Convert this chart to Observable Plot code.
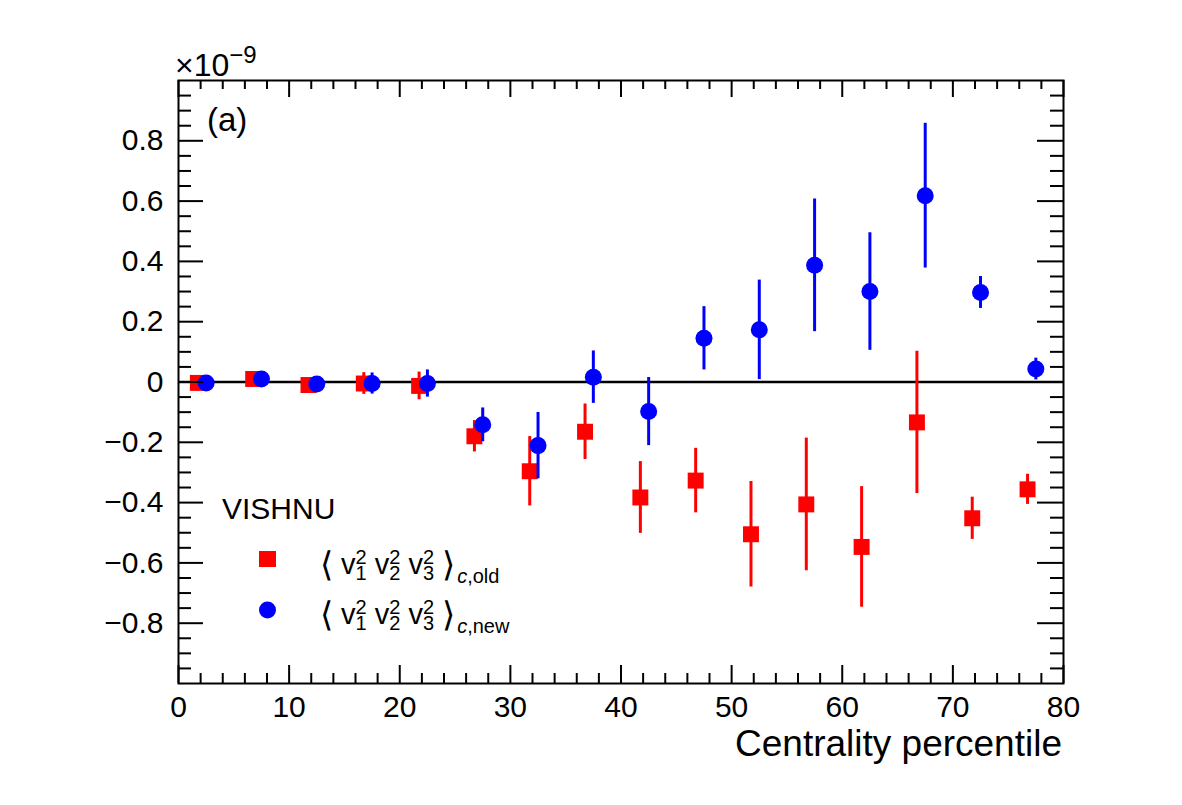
<!DOCTYPE html>
<html>
<head>
<meta charset="utf-8">
<script src="https://cdn.jsdelivr.net/npm/d3@7"></script>
<script src="https://cdn.jsdelivr.net/npm/@observablehq/plot@0.6"></script>
<style>
  html, body { margin: 0; padding: 0; background: #ffffff; }
  #chart { width: 1182px; height: 805px; }
</style>
</head>
<body>
<div id="chart"></div>
<script>
// Centrality bins (percent) for the two estimators, offset slightly for readability
const centralityOld = [1.75, 6.75, 11.75, 16.75, 21.75, 26.75, 31.75, 36.75, 41.75, 46.75, 51.75, 56.75, 61.75, 66.75, 71.75, 76.75];
const centralityNew = [2.5, 7.5, 12.5, 17.5, 22.5, 27.5, 32.5, 37.5, 42.5, 47.5, 52.5, 57.5, 62.5, 67.5, 72.5, 77.5];

// <v1^2 v2^2 v3^2>_c in units of 1e-9
const valuesOld = [-0.003, 0.010, -0.010, -0.005, -0.013, -0.180, -0.296, -0.165, -0.383, -0.327, -0.505, -0.406, -0.547, -0.134, -0.452, -0.356];
const errorsOld = [0.010, 0.010, 0.010, 0.036, 0.046, 0.052, 0.115, 0.092, 0.119, 0.107, 0.175, 0.220, 0.200, 0.236, 0.070, 0.050];
const valuesNew = [-0.003, 0.010, -0.007, -0.005, -0.005, -0.142, -0.211, 0.016, -0.098, 0.145, 0.173, 0.387, 0.300, 0.618, 0.297, 0.043];
const errorsNew = [0.008, 0.008, 0.010, 0.035, 0.045, 0.056, 0.110, 0.087, 0.113, 0.105, 0.165, 0.220, 0.195, 0.240, 0.053, 0.036];

// Axis ticks
const xTickValues = [0, 10, 20, 30, 40, 50, 60, 70, 80];
const yTickValues = [-0.8, -0.6, -0.4, -0.2, 0, 0.2, 0.4, 0.6, 0.8];

const W = 1182, H = 805;
const margin = {top: 80, right: 119, bottom: 122, left: 178};
const plotW = W - margin.left - margin.right;
const plotH = H - margin.top - margin.bottom;
const FONT = "'Liberation Sans', Arial, Helvetica, sans-serif";
const RED = "#ff0000", BLUE = "#0000ff";

const rowsOld = centralityOld.map((x, i) => ({x, v: valuesOld[i], lo: valuesOld[i] - errorsOld[i], hi: valuesOld[i] + errorsOld[i]}));
const rowsNew = centralityNew.map((x, i) => ({x, v: valuesNew[i], lo: valuesNew[i] - errorsNew[i], hi: valuesNew[i] + errorsNew[i]}));

const xMinor = d3.range(0, 80.001, 2).filter(d => d % 10 !== 0);
const yMinor = d3.range(-1, 1.0001, 0.05).map(d => +d.toFixed(2)).filter(d => !yTickValues.includes(d) && Math.abs(d) < 1);
const fmtY = d => d === 0 ? "0" : d3.format(".1f")(d);

const chart = Plot.plot({
  width: W,
  height: H,
  marginTop: margin.top,
  marginRight: margin.right,
  marginBottom: margin.bottom,
  marginLeft: margin.left,
  style: {fontFamily: FONT, background: "#ffffff", color: "#000000"},
  x: {domain: [0, 80]},
  y: {domain: [-1, 1]},
  marks: [
    Plot.ruleY([0], {stroke: "#000", strokeWidth: 2.5}),
    // old estimator
    Plot.ruleX(rowsOld, {x: "x", y1: "lo", y2: "hi", stroke: RED, strokeWidth: 3}),
    Plot.dot(rowsOld, {x: "x", y: "v", symbol: "square", r: 9, fill: RED, stroke: "none"}),
    // new estimator
    Plot.ruleX(rowsNew, {x: "x", y1: "lo", y2: "hi", stroke: BLUE, strokeWidth: 3}),
    Plot.dot(rowsNew, {x: "x", y: "v", r: 8.5, fill: BLUE, stroke: "none"}),
    // inward ticks on all four sides
    Plot.tickX(xTickValues, {x: d => d, insetTop: plotH - 18, stroke: "#000", strokeWidth: 2}),
    Plot.tickX(xMinor, {x: d => d, insetTop: plotH - 10, stroke: "#000", strokeWidth: 2}),
    Plot.tickX(xTickValues, {x: d => d, insetBottom: plotH - 17, stroke: "#000", strokeWidth: 2}),
    Plot.tickX(xMinor, {x: d => d, insetBottom: plotH - 9, stroke: "#000", strokeWidth: 2}),
    Plot.tickY(yTickValues, {y: d => d, insetRight: plotW - 25, stroke: "#000", strokeWidth: 2}),
    Plot.tickY(yMinor, {y: d => d, insetRight: plotW - 13, stroke: "#000", strokeWidth: 2}),
    Plot.tickY(yTickValues, {y: d => d, insetLeft: plotW - 26, stroke: "#000", strokeWidth: 2}),
    Plot.tickY(yMinor, {y: d => d, insetLeft: plotW - 13, stroke: "#000", strokeWidth: 2}),
    Plot.frame({stroke: "#000", strokeWidth: 2}),
    Plot.axisX({ticks: xTickValues, tickSize: 0, tickPadding: 12, fontSize: 30, label: null, tickFormat: d => String(d)}),
    Plot.axisY({ticks: yTickValues, tickSize: 0, tickPadding: 15, fontSize: 30, label: null, tickFormat: fmtY})
  ]
});

document.getElementById("chart").appendChild(chart);

// Annotations: exponent, panel tag, axis title and legend
const svg = d3.select(chart);
const g = svg.append("g").attr("font-family", FONT).attr("fill", "#000").attr("text-anchor", "start");

const expo = g.append("text").attr("x", 175).attr("y", 76).attr("font-size", 32);
expo.append("tspan").text("×10");
expo.append("tspan").attr("font-size", 24).attr("dy", -13).text("−9");

g.append("text").attr("x", 207).attr("y", 131).attr("font-size", 33).text("(a)");

g.append("text").attr("x", 1062).attr("y", 756).attr("font-size", 37)
  .attr("text-anchor", "end").text("Centrality percentile");

g.append("text").attr("x", 222).attr("y", 519).attr("font-size", 30).text("VISHNU");

g.append("rect").attr("x", 259).attr("y", 551).attr("width", 17).attr("height", 16).attr("fill", RED);
g.append("circle").attr("cx", 267.5).attr("cy", 610).attr("r", 8.5).attr("fill", BLUE);

function cumulantLabel(x, y, tag) {
  const t = g.append("text").attr("x", x).attr("y", y).attr("font-size", 29);
  t.append("tspan").attr("font-size", 34).attr("dy", 2).text("⟨");
  t.append("tspan").attr("dy", -2).text(" ");
  [1, 2, 3].forEach(i => {
    t.append("tspan").text("v");
    t.append("tspan").attr("font-size", 20).attr("dy", -10).text("2");
    t.append("tspan").attr("font-size", 20).attr("dx", -11.1).attr("dy", 16).text(String(i));
    t.append("tspan").attr("dy", -6).text(" ");
  });
  t.append("tspan").attr("font-size", 34).attr("dy", 2).text("⟩");
  t.append("tspan").attr("font-size", 20).attr("dy", 7).attr("dx", 2).attr("font-style", "italic").text("c");
  t.append("tspan").attr("font-size", 20).text("," + tag);
}
cumulantLabel(320, 574, "old");
cumulantLabel(320, 624, "new");
</script>
</body>
</html>
